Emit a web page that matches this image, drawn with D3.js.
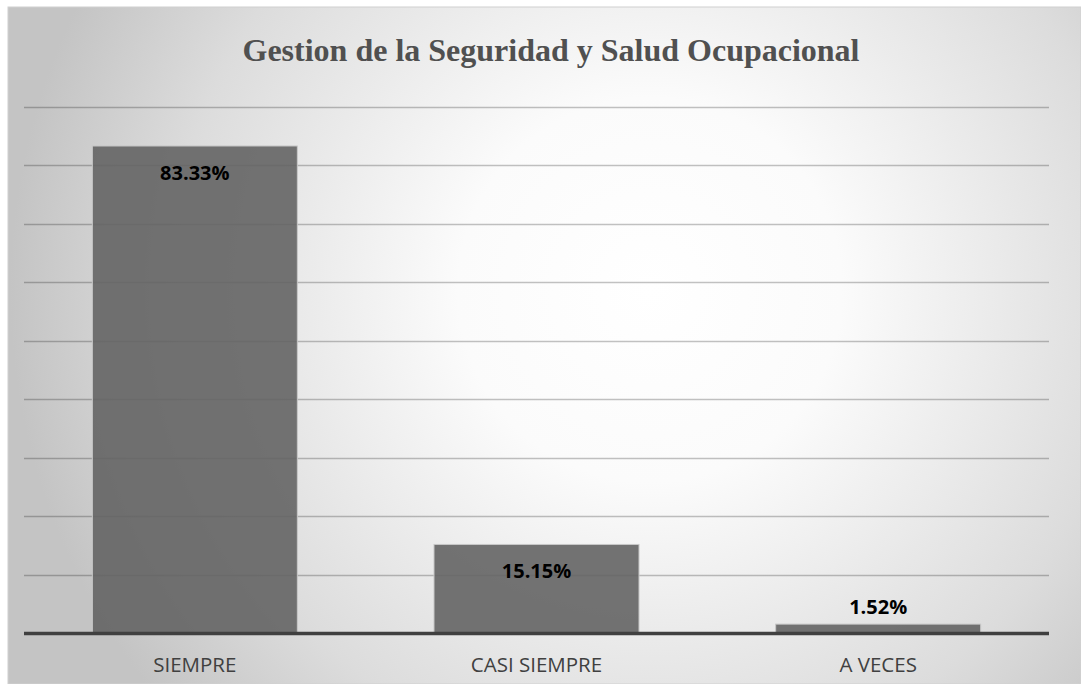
<!DOCTYPE html>
<html>
<head>
<meta charset="utf-8">
<script src="https://cdn.jsdelivr.net/npm/d3@7"></script>
<style>
  html, body { margin: 0; padding: 0; background: #fff; }
  svg { display: block; }
</style>
</head>
<body>
<svg id="viz" width="1081" height="684"></svg>
<script>
// data
const categories = ["SIEMPRE", "CASI SIEMPRE", "A VECES"];
const values = [83.33, 15.15, 1.52];
const labels = ["83.33%", "15.15%", "1.52%"];
const gridTicks = [0, 10, 20, 30, 40, 50, 60, 70, 80, 90];

const svg = d3.select("#viz");
const W = 1081, H = 684;

// chart area background (radial gray gradient)
const defs = svg.append("defs");
const grad = defs.append("radialGradient")
  .attr("id", "bg")
  .attr("gradientUnits", "userSpaceOnUse")
  .attr("cx", 650).attr("cy", 290).attr("r", 640)
  .attr("fx", 650).attr("fy", 290);
grad.append("stop").attr("offset", "0").attr("stop-color", "#ffffff");
grad.append("stop").attr("offset", "0.3").attr("stop-color", "#fbfbfb");
grad.append("stop").attr("offset", "0.75").attr("stop-color", "#dcdcdc");
grad.append("stop").attr("offset", "1").attr("stop-color", "#c4c4c4");

svg.append("rect")
  .attr("x", 8).attr("y", 7)
  .attr("width", W - 8).attr("height", H - 7)
  .attr("fill", "url(#bg)")
  .attr("stroke", "#d0d0d0").attr("stroke-width", 1);

// plot area
const margin = { left: 24, right: 32, top: 107, bottom: 51 };
const x = d3.scaleBand()
  .domain(categories)
  .range([margin.left, W - margin.right])
  .paddingInner(0.4).paddingOuter(0.2);
const y = d3.scaleLinear()
  .domain([0, 90])
  .range([H - margin.bottom, margin.top]);

// gridlines
svg.append("g").selectAll("line")
  .data(gridTicks.filter(d => d > 0))
  .join("line")
    .attr("x1", margin.left).attr("x2", W - margin.right)
    .attr("y1", d => Math.round(y(d)) + 0.5).attr("y2", d => Math.round(y(d)) + 0.5)
    .attr("stroke", "rgba(0,0,0,0.24)")
    .attr("stroke-width", 1.5);

// bars
const data = categories.map((c, i) => ({ cat: c, v: values[i], lab: labels[i] }));
svg.append("g").selectAll("rect")
  .data(data)
  .join("rect")
    .attr("x", d => x(d.cat))
    .attr("y", d => y(d.v))
    .attr("width", x.bandwidth())
    .attr("height", d => y(0) - y(d.v))
    .attr("fill", "rgba(100,100,100,0.9)")
    .attr("stroke", "#c8c8c8")
    .attr("stroke-width", 1);

// baseline
svg.append("line")
  .attr("x1", margin.left).attr("x2", W - margin.right)
  .attr("y1", y(0) + 0.5).attr("y2", y(0) + 0.5)
  .attr("stroke", "#404040").attr("stroke-width", 3.5);

// value labels: inside end when room, otherwise above
svg.append("g").selectAll("text")
  .data(data)
  .join("text")
    .attr("x", d => x(d.cat) + x.bandwidth() / 2)
    .attr("y", d => (y(0) - y(d.v) > 40) ? y(d.v) + 34 : y(d.v) - 10)
    .attr("text-anchor", "middle")
    .attr("font-family", "'Open Sans', 'Noto Sans', sans-serif")
    .attr("font-weight", "bold")
    .attr("font-size", 20)
    .attr("fill", "#000")
    .text(d => d.lab);

// category axis labels
svg.append("g").selectAll("text")
  .data(categories)
  .join("text")
    .attr("x", d => x(d) + x.bandwidth() / 2)
    .attr("y", 672)
    .attr("text-anchor", "middle")
    .attr("font-family", "'Open Sans', 'Noto Sans', sans-serif")
    .attr("font-size", 20.5)
    .attr("fill", "#404040")
    .text(d => d);

// title
svg.append("text")
  .attr("x", 551).attr("y", 61)
  .attr("text-anchor", "middle")
  .attr("font-family", "'Liberation Serif', 'Times New Roman', serif")
  .attr("font-weight", "bold")
  .attr("font-size", 32)
  .attr("fill", "#505050")
  .text("Gestion de la Seguridad y Salud Ocupacional");
</script>
</body>
</html>
